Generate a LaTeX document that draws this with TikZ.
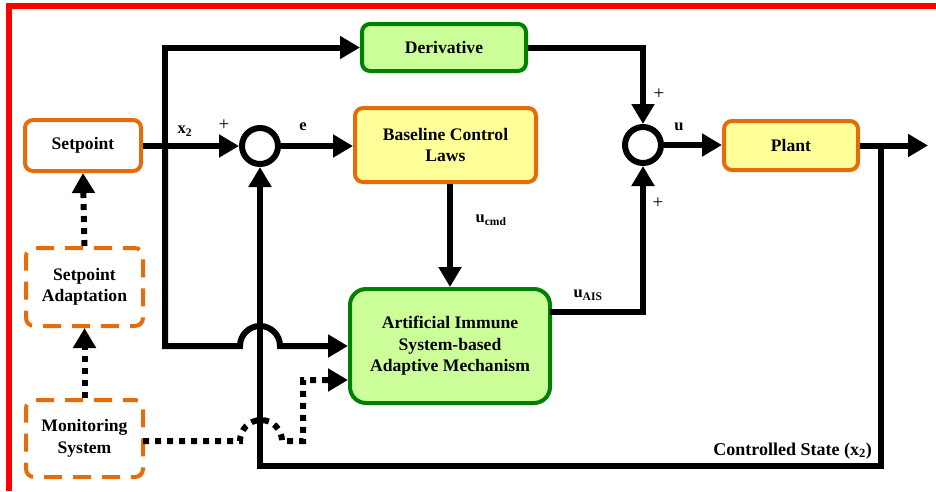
\documentclass[tikz,border=0pt]{standalone}
\usepackage{fontspec}
\setmainfont{Liberation Serif}
\usetikzlibrary{arrows.meta}
\definecolor{borange}{HTML}{E46C0A}
\definecolor{bgreen}{HTML}{008000}
\definecolor{fgreen}{HTML}{CCFF99}
\definecolor{fyellow}{HTML}{FFFF99}
\begin{document}
\begin{tikzpicture}[x=1pt,y=-1pt,
  box/.style={draw, line width=4pt, rounded corners=8pt, align=center,
    font=\fontsize{17.6}{21.5}\selectfont\bfseries, inner sep=0pt},
  obox/.style={box, draw=borange, fill=white},
  ybox/.style={box, draw=borange, fill=fyellow},
  gbox/.style={box, draw=bgreen, fill=fgreen},
  dbox/.style={box, draw=borange, fill=white, dash pattern=on 18pt off 11pt, dash phase=6pt},
  sumc/.style={draw, circle, line width=6pt, minimum size=36pt, inner sep=0pt, fill=white},
  conn/.style={draw, line width=6pt, line join=miter, -{Triangle[length=20pt,width=22pt]}},
  dotc/.style={draw, line width=6pt, dash pattern=on 6pt off 6pt, -{Triangle[length=20pt,width=22pt]}},
  lab/.style={font=\fontsize{16.5}{18}\selectfont\bfseries, inner sep=0pt},
  plus/.style={font=\fontsize{19}{20}\selectfont, inner sep=0pt}]
\useasboundingbox (0,0) rectangle (936,491);
\draw[red, line width=5.5pt, line join=miter] (9,491) -- (9,6) -- (936,6);

% boxes
\node[obox, minimum width=116pt, minimum height=51pt] (sp) at (83,145.5) {Setpoint};
\node[dbox, minimum width=117pt, minimum height=78pt] (sa) at (84.5,287) {Setpoint\\Adaptation};
\node[dbox, minimum width=117pt, minimum height=77pt] (mon) at (84.5,438.5) {Monitoring\\System};
\node[gbox, minimum width=164pt, minimum height=47pt] (der) at (444,47.5) {Derivative};
\node[ybox, minimum width=181pt, minimum height=74pt] (bcl) at (445.5,145) {Baseline Control\\Laws};
\node[ybox, minimum width=134pt, minimum height=49pt] (plant) at (791,145.5) {Plant};
\node[gbox, rounded corners=16pt, minimum width=200pt, minimum height=114pt] (ais) at (450,346) {Artificial Immune\\System-based\\Adaptive Mechanism};
\node[sumc] (c1) at (260,146) {};
\node[sumc] (c2) at (643,145) {};

% coordinates
\coordinate (br) at (165,146);
\coordinate (bl) at (240,346);
\coordinate (ao) at (550,312);
\coordinate (out) at (928,145.5);
\coordinate (fb) at (881,145.5);
\coordinate (fbc) at (881,466);
\coordinate (mo) at (143,441);
\coordinate (ml) at (240,441);
\coordinate (mr) at (303,441);
\coordinate (mu) at (303,380);

% solid connectors
\draw[conn] (sp.east |- c1.west) -- (c1.west);
\draw[conn] (br) |- (der.west);
\draw[conn] (br) |- (bl) arc[start angle=180, end angle=360, radius=20] -- (ais.west);
\draw[conn] (c1.east) -- (bcl.west |- c1.east);
\draw[conn] (ais.north |- bcl.south) -- (ais.north);
\draw[conn] (der.east) -| (c2.north);
\draw[conn] (ao) -| (c2.south);
\draw[conn] (c2.east) -- (plant.west |- c2.east);
\draw[conn] (plant.east) -- (out);
\draw[conn] (fb) -- (fbc) -| (c1.south);

% dotted connectors
\draw[dotc] (sa.north) -- (sp.south);
\draw[dotc] (mon.north) -- (sa.south);
\draw[dotc] (mo) -- (ml) arc[start angle=180, end angle=360, radius=21] -- (mr) -- (mu) -- (ais.west |- mu);

% labels
\node[lab] (lx2) at (185,131) {x\textsubscript{2}};
\node[plus] (p1) at (224,125) {+};
\node[lab] (le) at (303,127) {e};
\node[plus] (p2) at (659,94) {+};
\node[lab] (lu) at (679,127) {u};
\node[plus] (p3) at (658,203) {+};
\node[lab] (lucmd) at (491,220) {u\textsubscript{cmd}};
\node[lab] (luais) at (588,295) {u\textsubscript{AIS}};
\node[lab, font=\fontsize{18}{20}\selectfont\bfseries, anchor=east] (lcs) at (872,451) {Controlled State (x\textsubscript{2})};
\end{tikzpicture}
\end{document}
